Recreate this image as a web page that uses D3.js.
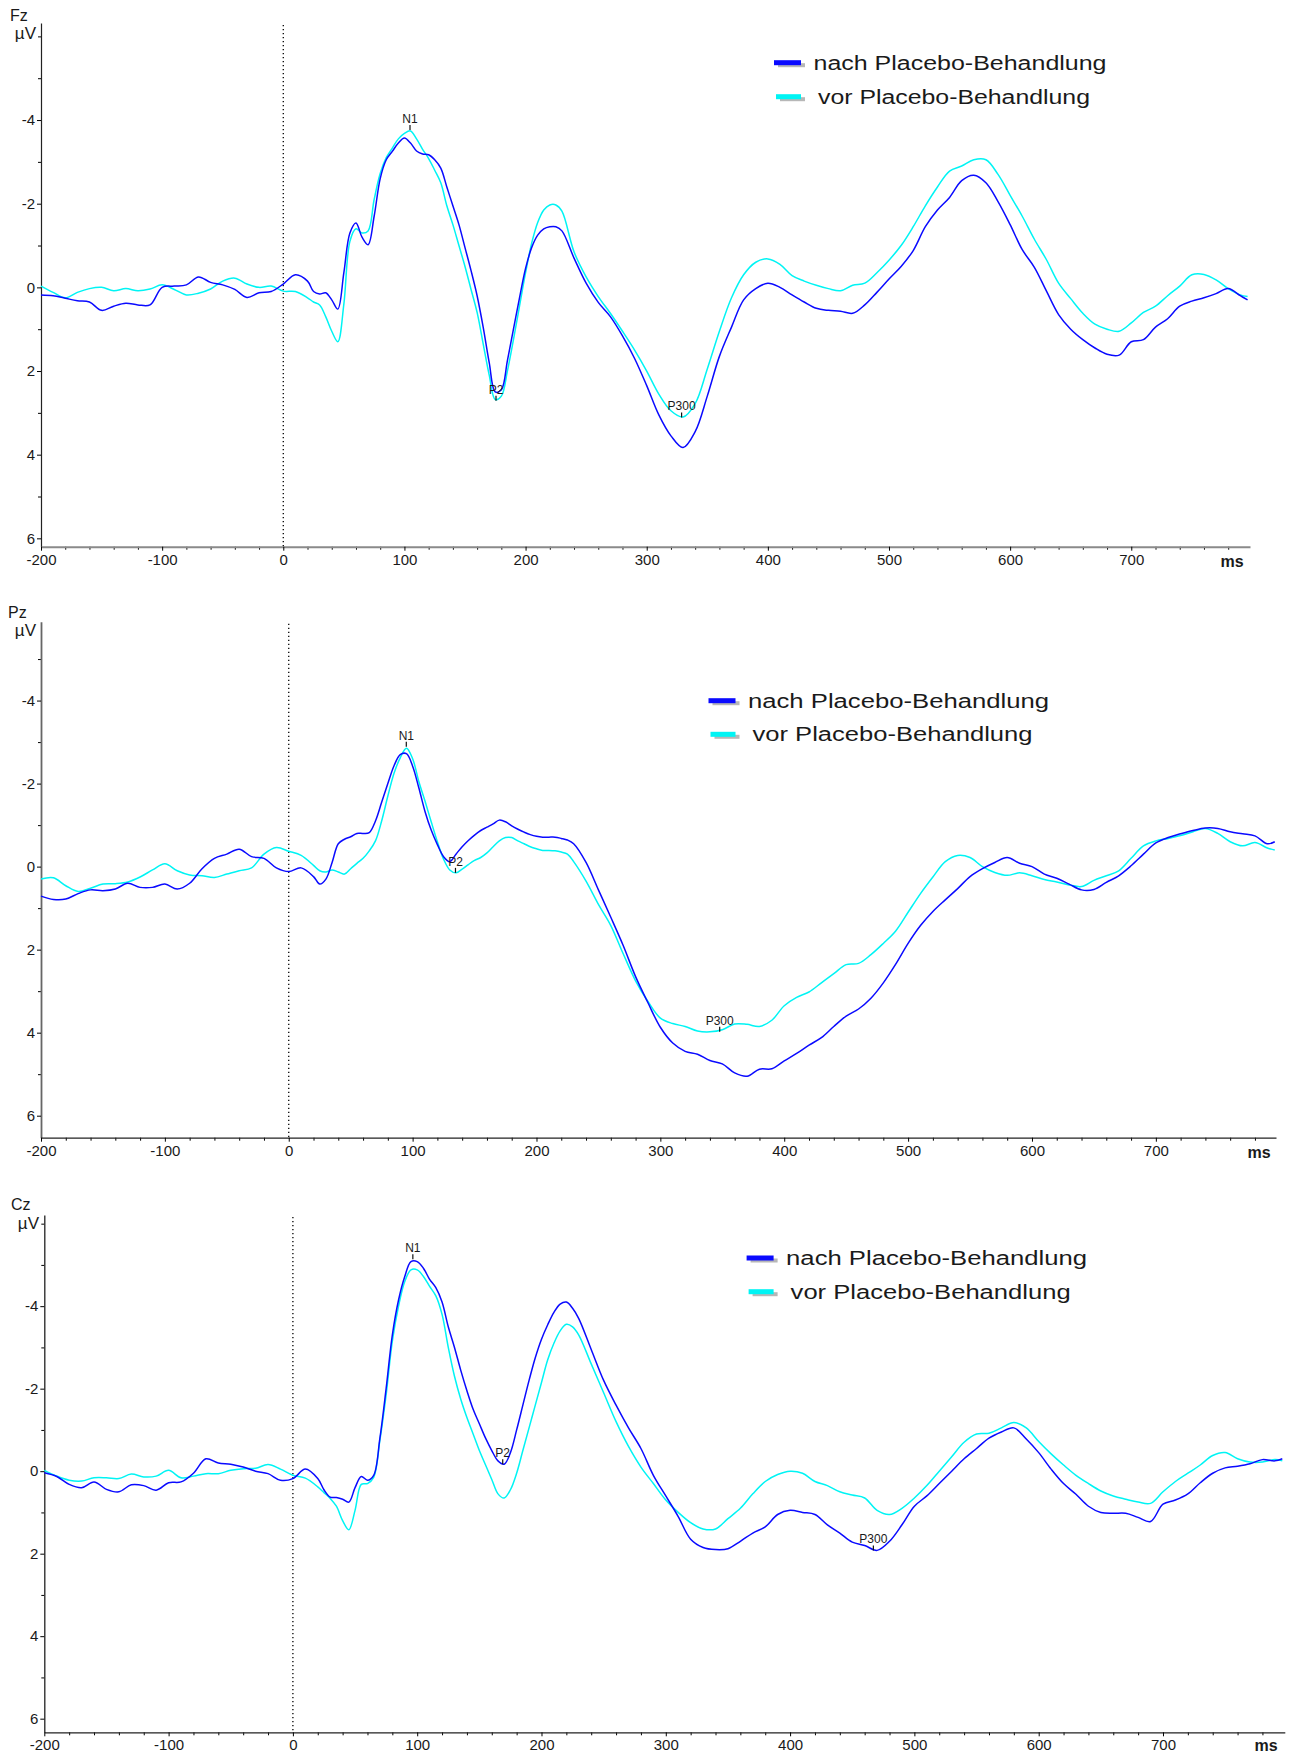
<!DOCTYPE html>
<html>
<head>
<meta charset="utf-8">
<script src="https://cdn.jsdelivr.net/npm/d3@7"></script>
<style>
body { margin: 0; background: #fff; }
text { font-family: "Liberation Sans", Arial, sans-serif; fill: #1a1a1a; }
</style>
</head>
<body>
<div id="chart"></div>
<script>
// ERP averages for three channels, before / after placebo treatment
// time points in ms (finer steps around N1 / P2)
var times = [-200,-190,-180,-170,-160,-150,-140,-130,-120,-110,-100,-90,-80,-70,-60,-50,-40,-30,-20,-10,0,10,20,
  25,30,35,40,45,50,55,60,65,70,75,80,85,90,95,100,105,110,115,120,125,130,135,140,145,150,155,160,165,170,175,180,185,190,195,200,205,210,215,220,225,230,
  240,250,260,270,280,290,300,310,320,330,340,350,360,370,380,390,400,410,420,430,440,450,460,470,480,490,500,510,520,530,540,550,560,570,580,590,600,610,620,630,640,650,660,670,680,690,700,710,720,730,740,750,760,770,780,790,
  796];

// values in microvolt (negative up)
var fzNach = [0.18,0.2,0.26,0.32,0.35,0.55,0.45,0.38,0.42,0.42,0.0,-0.03,-0.06,-0.25,-0.12,-0.06,0.05,0.24,0.13,0.1,-0.08,-0.3,-0.15,
  0.1,0.16,0.13,0.3,0.52,-0.35,-1.3,-1.54,-1.2,-1.02,-1.7,-2.6,-3.05,-3.25,-3.45,-3.57,-3.45,-3.26,-3.19,-3.17,-3.05,-2.85,-2.4,-1.95,-1.5,-0.95,-0.4,0.2,0.95,1.8,2.5,2.45,1.75,1.0,0.25,-0.45,-0.95,-1.25,-1.4,-1.45,-1.45,-1.35,
  -0.7,-0.1,0.36,0.7,1.16,1.7,2.35,3.05,3.55,3.83,3.45,2.6,1.65,0.95,0.3,0.03,-0.1,0.0,0.18,0.35,0.5,0.55,0.57,0.62,0.42,0.12,-0.2,-0.5,-0.88,-1.45,-1.85,-2.15,-2.55,-2.68,-2.5,-2.05,-1.5,-0.9,-0.48,0.09,0.65,1.0,1.25,1.45,1.6,1.62,1.3,1.25,0.95,0.75,0.45,0.33,0.25,0.15,0.03,0.2,
  0.3];
var fzVor = [-0.03,0.12,0.25,0.12,0.03,0.0,0.08,0.03,0.08,0.04,-0.06,0.05,0.18,0.14,0.04,-0.15,-0.22,-0.08,0.0,-0.03,0.09,0.1,0.25,
  0.35,0.42,0.7,1.05,1.3,0.4,-1.1,-1.4,-1.3,-1.35,-2.1,-2.72,-3.1,-3.33,-3.55,-3.68,-3.74,-3.55,-3.3,-3.08,-2.8,-2.5,-1.95,-1.5,-1.0,-0.5,0.05,0.6,1.35,2.1,2.68,2.6,2.0,1.25,0.45,-0.35,-1.05,-1.55,-1.85,-1.97,-1.97,-1.82,
  -0.85,-0.25,0.22,0.62,1.05,1.5,2.0,2.55,2.95,3.1,2.78,1.95,1.05,0.25,-0.3,-0.6,-0.68,-0.55,-0.28,-0.15,-0.05,0.03,0.08,-0.05,-0.1,-0.35,-0.65,-1.0,-1.45,-1.95,-2.4,-2.78,-2.9,-3.05,-3.05,-2.7,-2.2,-1.7,-1.15,-0.66,-0.1,0.27,0.62,0.88,1.0,1.05,0.85,0.6,0.45,0.2,-0.03,-0.3,-0.31,-0.18,0.03,0.18,
  0.22];

var pzNach = [0.71,0.79,0.78,0.65,0.56,0.58,0.54,0.4,0.5,0.5,0.42,0.54,0.4,0.05,-0.2,-0.3,-0.42,-0.24,-0.2,0.03,0.12,0.03,0.24,
  0.42,0.3,-0.1,-0.55,-0.66,-0.72,-0.8,-0.8,-0.82,-1.1,-1.55,-2.0,-2.43,-2.7,-2.72,-2.42,-1.9,-1.33,-0.88,-0.53,-0.24,-0.12,-0.3,-0.48,-0.63,-0.76,-0.87,-0.95,-1.03,-1.12,-1.08,-0.98,-0.9,-0.83,-0.77,-0.73,-0.71,-0.71,-0.71,-0.68,-0.64,-0.55,
  -0.1,0.56,1.22,1.9,2.65,3.28,3.87,4.25,4.45,4.52,4.67,4.75,4.97,5.05,4.88,4.87,4.68,4.5,4.3,4.12,3.85,3.6,3.43,3.17,2.8,2.35,1.85,1.42,1.08,0.8,0.53,0.24,0.05,-0.1,-0.22,-0.08,0.0,0.18,0.28,0.42,0.56,0.55,0.38,0.22,-0.02,-0.3,-0.57,-0.7,-0.79,-0.87,-0.93,-0.92,-0.84,-0.79,-0.74,-0.55,
  -0.6];
var pzVor = [0.3,0.27,0.46,0.6,0.52,0.42,0.41,0.37,0.25,0.08,-0.07,0.1,0.2,0.22,0.26,0.18,0.1,0.03,-0.3,-0.46,-0.37,-0.27,-0.03,
  0.1,0.13,0.08,0.13,0.18,0.05,-0.08,-0.2,-0.38,-0.62,-1.1,-1.7,-2.25,-2.62,-2.85,-2.6,-2.05,-1.58,-1.08,-0.6,-0.18,0.08,0.15,0.06,-0.05,-0.15,-0.22,-0.33,-0.48,-0.62,-0.7,-0.7,-0.62,-0.55,-0.48,-0.43,-0.39,-0.39,-0.38,-0.35,-0.3,-0.12,
  0.35,0.91,1.42,2.1,2.75,3.25,3.65,3.78,3.85,3.96,3.98,3.93,3.79,3.8,3.85,3.7,3.35,3.15,3.02,2.8,2.58,2.36,2.33,2.12,1.85,1.55,1.1,0.65,0.25,-0.12,-0.27,-0.22,0.0,0.14,0.21,0.15,0.22,0.31,0.37,0.44,0.48,0.33,0.22,0.1,-0.2,-0.5,-0.62,-0.68,-0.75,-0.84,-0.92,-0.8,-0.6,-0.5,-0.58,-0.45,
  -0.4];

var czNach = [0.04,0.13,0.32,0.4,0.26,0.44,0.5,0.33,0.35,0.46,0.28,0.26,0.05,-0.3,-0.2,-0.17,-0.1,0.0,0.06,0.22,0.18,-0.05,0.18,
  0.45,0.63,0.64,0.68,0.75,0.4,0.13,0.22,0.1,-0.8,-2.0,-3.3,-4.15,-4.72,-5.08,-5.08,-4.92,-4.65,-4.45,-4.1,-3.5,-3.0,-2.45,-1.95,-1.5,-1.15,-0.8,-0.5,-0.25,-0.17,-0.45,-1.0,-1.6,-2.2,-2.75,-3.2,-3.55,-3.85,-4.05,-4.1,-3.95,-3.7,
  -2.95,-2.2,-1.6,-1.05,-0.55,0.1,0.6,1.1,1.65,1.85,1.9,1.88,1.7,1.5,1.35,1.05,0.95,1.0,1.05,1.3,1.5,1.72,1.8,1.92,1.7,1.3,0.85,0.6,0.3,0.0,-0.3,-0.55,-0.8,-0.95,-1.05,-0.78,-0.45,-0.05,0.3,0.56,0.85,1.0,1.02,1.02,1.12,1.22,0.8,0.7,0.55,0.28,0.05,-0.08,-0.12,-0.18,-0.28,-0.25,
  -0.3];
var czVor = [-0.02,0.12,0.22,0.24,0.16,0.16,0.18,0.07,0.14,0.12,-0.02,0.16,0.12,0.06,0.06,-0.02,-0.06,-0.07,-0.16,-0.05,0.1,0.17,0.38,
  0.52,0.66,0.85,1.2,1.42,0.95,0.32,0.3,0.15,-0.75,-1.85,-3.15,-4.0,-4.6,-4.88,-4.88,-4.72,-4.48,-4.25,-3.8,-3.0,-2.3,-1.75,-1.3,-0.9,-0.5,-0.15,0.2,0.55,0.65,0.45,0.05,-0.5,-1.05,-1.6,-2.15,-2.7,-3.1,-3.4,-3.56,-3.5,-3.3,
  -2.6,-1.9,-1.2,-0.6,-0.1,0.3,0.7,1.0,1.25,1.4,1.4,1.15,0.9,0.55,0.25,0.08,0.0,0.05,0.25,0.35,0.5,0.58,0.65,0.95,1.05,0.9,0.65,0.35,0.0,-0.35,-0.7,-0.9,-0.92,-1.05,-1.18,-1.05,-0.72,-0.42,-0.15,0.1,0.3,0.48,0.6,0.68,0.75,0.78,0.5,0.25,0.05,-0.15,-0.38,-0.45,-0.3,-0.22,-0.22,-0.28,
  -0.25];

// peak markers
var peakNames = ["N1", "P2", "P300"];
var fzPeakTimes = [104.6, 175.6, 328.8], fzPeakValues = [-3.76, 2.71, 3.11];
var pzPeakTimes = [94.9, 134.6, 347.9], pzPeakValues = [-2.89, 0.15, 3.98];
var czPeakTimes = [96.5, 168.8, 467], czPeakValues = [-5.14, -0.17, 1.92];

var xTicks = [-200, -100, 0, 100, 200, 300, 400, 500, 600, 700];
var yTicks = [-4, -2, 0, 2, 4, 6];
var yMinorTicks = [-6, -5, -3, -1, 1, 3, 5];
var legendLabels = ["nach Placebo-Behandlung", "vor Placebo-Behandlung"];
var seriesColors = ["#0a0aff", "#00f4f4"];

var WIDTH = 1295, HEIGHT = 1755;

var panels = [
  {name: "Fz", nach: fzNach, vor: fzVor, peakTimes: fzPeakTimes, peakValues: fzPeakValues,
   xRange: [41, 1250], tEnd: 798, yDomain: [-6.32, 6.2], yRange: [23, 546.7],
   title: [10, 20.5], unit: [36, 39], ms: [1232, 567],
   legend: [774, 62.7, 34], legendW: [293, 272],
   xAxisColor: "#8a8a8a", xAxisWidth: 2, yAxisColor: "#222", yAxisWidth: 1.2},
  {name: "Pz", nach: pzNach, vor: pzVor, peakTimes: pzPeakTimes, peakValues: pzPeakValues,
   xRange: [41, 1276], tEnd: 797, yDomain: [-5.9, 6.53], yRange: [621.7, 1137.7],
   title: [8, 617.5], unit: [36, 636], ms: [1259, 1158],
   legend: [708.5, 700.7, 33.6], legendW: [301, 280],
   xAxisColor: "#222", xAxisWidth: 1.3, yAxisColor: "#666", yAxisWidth: 1.8},
  {name: "Cz", nach: czNach, vor: czVor, peakTimes: czPeakTimes, peakValues: czPeakValues,
   xRange: [44.3, 1284.8], tEnd: 798, yDomain: [-6.21, 6.33], yRange: [1215, 1732.3],
   title: [11, 1210], unit: [39, 1229.3], ms: [1266, 1751],
   legend: [746.6, 1258, 33.7], legendW: [301, 280],
   xAxisColor: "#222", xAxisWidth: 1.3, yAxisColor: "#222", yAxisWidth: 1.3}
];

var svg = d3.select("#chart").append("svg")
  .attr("width", WIDTH)
  .attr("height", HEIGHT);

svg.append("rect").attr("width", WIDTH).attr("height", HEIGHT).attr("fill", "#fff");

panels.forEach(function(p) {
  var x = d3.scaleLinear().domain([-200, p.tEnd]).range(p.xRange);
  var y = d3.scaleLinear().domain(p.yDomain).range(p.yRange);
  var g = svg.append("g");
  var bottom = p.yRange[1];

  // dotted stimulus line
  g.append("line")
    .attr("x1", x(0)).attr("x2", x(0))
    .attr("y1", p.yRange[0] + 2).attr("y2", bottom)
    .attr("stroke", "#000").attr("stroke-width", 1.3)
    .attr("stroke-dasharray", "1.3,2.7");

  // y axis: minor ticks, then labelled ticks
  var inY = function(d) { return d >= p.yDomain[0] && d <= p.yDomain[1]; };
  g.append("g")
    .attr("transform", "translate(" + p.xRange[0] + ",0)")
    .call(d3.axisLeft(y).tickValues(yMinorTicks.filter(inY)).tickSize(3).tickFormat(""))
    .call(function(a) { a.select(".domain").remove(); });
  var ya = g.append("g")
    .attr("transform", "translate(" + p.xRange[0] + ",0)")
    .call(d3.axisLeft(y).tickValues(yTicks).tickSize(4).tickSizeOuter(0).tickPadding(2)
      .tickFormat(function(d) { return String(d); }));
  ya.select(".domain").attr("stroke", p.yAxisColor).attr("stroke-width", p.yAxisWidth);
  ya.selectAll("text").style("font-size", "15px").attr("fill", "#1a1a1a")
    .style("font-family", "'Liberation Sans', Arial, sans-serif");

  // x axis
  var minorX = d3.range(-180, p.tEnd, 20).filter(function(d) { return d % 100 !== 0; });
  g.append("g")
    .attr("transform", "translate(0," + bottom + ")")
    .call(d3.axisBottom(x).tickValues(minorX).tickSize(3).tickFormat(""))
    .call(function(a) { a.select(".domain").remove(); });
  var xa = g.append("g")
    .attr("transform", "translate(0," + bottom + ")")
    .call(d3.axisBottom(x).tickValues(xTicks).tickSize(4).tickSizeOuter(0).tickPadding(3.5)
      .tickFormat(function(d) { return String(d); }));
  xa.select(".domain").attr("stroke", p.xAxisColor).attr("stroke-width", p.xAxisWidth);
  xa.selectAll("text").style("font-size", "15px").attr("fill", "#1a1a1a")
    .style("font-family", "'Liberation Sans', Arial, sans-serif");

  // channel name, unit, ms
  g.append("text").attr("x", p.title[0]).attr("y", p.title[1])
    .style("font-size", "16px").text(p.name);
  g.append("text").attr("x", p.unit[0]).attr("y", p.unit[1])
    .attr("text-anchor", "end").style("font-size", "17px").text("µV");
  g.append("text").attr("x", p.ms[0]).attr("y", p.ms[1])
    .attr("text-anchor", "middle").style("font-size", "16px").style("font-weight", "bold").text("ms");

  // curves
  var line = d3.line()
    .x(function(d, i) { return x(times[i]); })
    .y(function(d) { return y(d); })
    .curve(d3.curveCatmullRom.alpha(0.5));
  g.append("path").datum(p.vor)
    .attr("d", line).attr("fill", "none")
    .attr("stroke", seriesColors[1]).attr("stroke-width", 1.5);
  g.append("path").datum(p.nach)
    .attr("d", line).attr("fill", "none")
    .attr("stroke", seriesColors[0]).attr("stroke-width", 1.5);

  // peak markers
  var pk = g.selectAll(".peak").data(peakNames).enter().append("g");
  pk.append("line")
    .attr("x1", function(d, i) { return x(p.peakTimes[i]); })
    .attr("x2", function(d, i) { return x(p.peakTimes[i]); })
    .attr("y1", function(d, i) { return y(p.peakValues[i]) - 5; })
    .attr("y2", function(d, i) { return y(p.peakValues[i]); })
    .attr("stroke", "#111").attr("stroke-width", 1.2);
  pk.append("text")
    .attr("x", function(d, i) { return x(p.peakTimes[i]); })
    .attr("y", function(d, i) { return y(p.peakValues[i]) - 7; })
    .attr("text-anchor", "middle").style("font-size", "12px").attr("fill", "#333")
    .text(function(d) { return d; });

  // legend
  var lg = g.selectAll(".leg").data(legendLabels).enter().append("g")
    .attr("transform", function(d, i) { return "translate(" + p.legend[0] + "," + (p.legend[1] + i * p.legend[2]) + ")"; });
  lg.append("rect")
    .attr("x", function(d, i) { return i * 2 + 4; }).attr("y", 0.5)
    .attr("width", function(d, i) { return 27 - i * 2; }).attr("height", 4)
    .attr("fill", "#999").attr("opacity", 0.7);
  lg.append("rect")
    .attr("x", function(d, i) { return i * 2; }).attr("y", -2.5)
    .attr("width", function(d, i) { return 27 - i * 2; }).attr("height", 5)
    .attr("fill", function(d, i) { return seriesColors[i]; });
  lg.append("text")
    .attr("x", function(d, i) { return i ? 44 : 39.5; })
    .attr("y", 7)
    .attr("textLength", function(d, i) { return p.legendW[i]; })
    .attr("lengthAdjust", "spacingAndGlyphs")
    .style("font-size", "20px").attr("fill", "#111")
    .text(function(d) { return d; });
});
</script>
</body>
</html>
